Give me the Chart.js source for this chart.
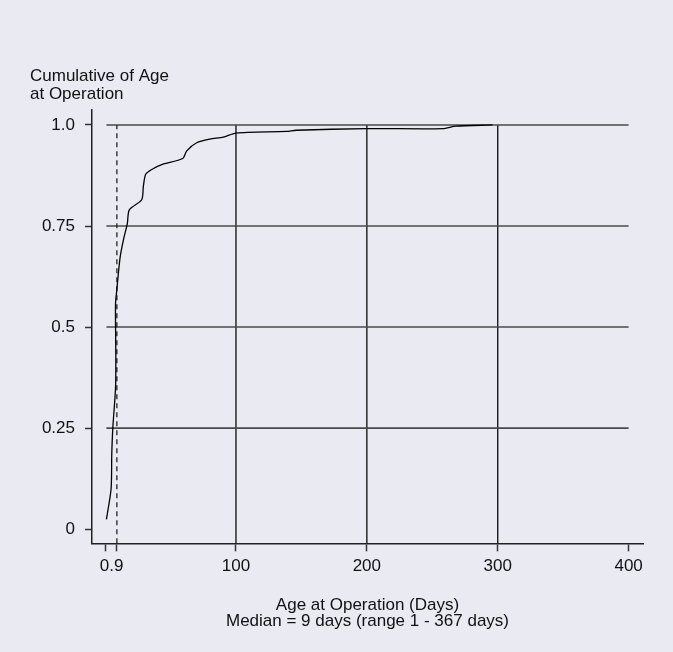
<!DOCTYPE html>
<html>
<head>
<meta charset="utf-8">
<script src="https://cdn.jsdelivr.net/npm/chart.js@4/dist/chart.umd.min.js"></script>
<style>
  html, body { margin: 0; padding: 0; background: #EAEAF2; }
  #wrap { width: 673px; height: 652px; }
</style>
</head>
<body>
<div id="wrap"><canvas id="c" width="673" height="652"></canvas></div>
<script>
// Cumulative distribution of age at operation (days)
const ageDays = [1, 4.6, 5.1, 5.9, 8.0, 8.2, 8.0, 8.0, 8.9, 11.5, 14.3, 17, 18.5, 28, 29.2, 31, 35.6, 43.3, 59.3, 62.4, 70, 80, 90.3, 100, 138.7, 146, 200, 258, 268, 296];
const cumulative = [0.024, 0.10, 0.185, 0.25, 0.35, 0.425, 0.5, 0.56, 0.59, 0.673, 0.72, 0.756, 0.79, 0.815, 0.847, 0.878, 0.89, 0.902, 0.917, 0.936, 0.956, 0.965, 0.97, 0.98, 0.984, 0.987, 0.991, 0.991, 0.997, 1.0];

const medianDays = 9;
const yGridValues = [0.25, 0.5, 0.75, 1.0];
const xGridValues = [100, 200, 300];
const xTickValues = [0, 5, 9, 100, 200, 300, 400];
const xTickLabels = ['', '0.9', '', '100', '200', '300', '400'];
const yTickValues = [0, 0.25, 0.5, 0.75, 1.0];
const yTickLabels = ['0', '0.25', '0.5', '0.75', '1.0'];

const xMin = -10, xMax = 411, yMin = -0.035, yMax = 1.037;
const gridStartX = 1, gridEndX = 400;

const FONT = "'Liberation Sans', Arial, sans-serif";
const TXT = '#111';

const datasets = [];
datasets.push({
  data: ageDays.map((x, i) => ({ x: x, y: cumulative[i] })),
  borderColor: '#000', borderWidth: 1.3, pointRadius: 0,
  tension: 0.25, fill: false, order: 0
});
datasets.push({
  data: [{ x: medianDays, y: yMin }, { x: medianDays, y: 1.0 }],
  borderColor: '#222', borderWidth: 1.3, borderDash: [5, 4], pointRadius: 0, order: 1
});
yGridValues.forEach(v => datasets.push({
  data: [{ x: gridStartX, y: v }, { x: gridEndX, y: v }],
  borderColor: '#4a4a4a', borderWidth: 1.6, pointRadius: 0, order: 2
}));
xGridValues.forEach(v => datasets.push({
  data: [{ x: v, y: yMin }, { x: v, y: 1.0 }],
  borderColor: '#1a1a1a', borderWidth: 1.4, pointRadius: 0, order: 2
}));

const bgPlugin = {
  id: 'bg',
  beforeDraw(chart) {
    const ctx = chart.ctx;
    ctx.save();
    ctx.fillStyle = '#EAEAF2';
    ctx.fillRect(0, 0, chart.width, chart.height);
    ctx.restore();
  }
};

new Chart(document.getElementById('c'), {
  type: 'line',
  data: { datasets: datasets },
  plugins: [bgPlugin],
  options: {
    responsive: false,
    animation: false,
    layout: { padding: { left: 30, right: 30, top: 68, bottom: 23 } },
    plugins: {
      legend: { display: false },
      tooltip: { enabled: false },
      title: {
        display: true,
        text: ['Cumulative of Age', 'at Operation'],
        align: 'start',
        color: TXT,
        font: { family: FONT, size: 17, weight: 'normal', lineHeight: 1.03 },
        padding: { top: 0, bottom: 7 }
      }
    },
    scales: {
      x: {
        type: 'linear', min: xMin, max: xMax,
        afterBuildTicks(scale) { scale.ticks = xTickValues.map(v => ({ value: v })); },
        ticks: {
          autoSkip: false, maxRotation: 0, color: TXT, padding: 5,
          font: { family: FONT, size: 17 },
          callback(value) { const i = xTickValues.indexOf(value); return i >= 0 ? xTickLabels[i] : ''; }
        },
        grid: {
          drawOnChartArea: false, drawTicks: true, tickLength: 8, tickWidth: 1.5,
          tickColor: (ctx) => (ctx.tick && ctx.tick.value === 5) ? 'rgba(0,0,0,0)' : '#333'
        },
        border: { display: true, color: '#222', width: 1.5 },
        title: {
          display: true,
          text: ['Age at Operation (Days)', 'Median = 9 days (range 1 - 367 days)'],
          color: TXT,
          font: { family: FONT, size: 17, lineHeight: 0.92 },
          padding: { top: 16, bottom: 0 }
        }
      },
      y: {
        type: 'linear', min: yMin, max: yMax,
        afterBuildTicks(scale) { scale.ticks = yTickValues.map(v => ({ value: v })); },
        afterFit(scale) { scale.width = 62; },
        ticks: {
          autoSkip: false, color: TXT, padding: 10,
          font: { family: FONT, size: 17 },
          callback(value) { const i = yTickValues.indexOf(value); return i >= 0 ? yTickLabels[i] : ''; }
        },
        grid: { drawOnChartArea: false, drawTicks: true, tickLength: 7, tickWidth: 1.5, tickColor: '#333' },
        border: { display: true, color: '#222', width: 1.5 }
      }
    }
  }
});
</script>
</body>
</html>
